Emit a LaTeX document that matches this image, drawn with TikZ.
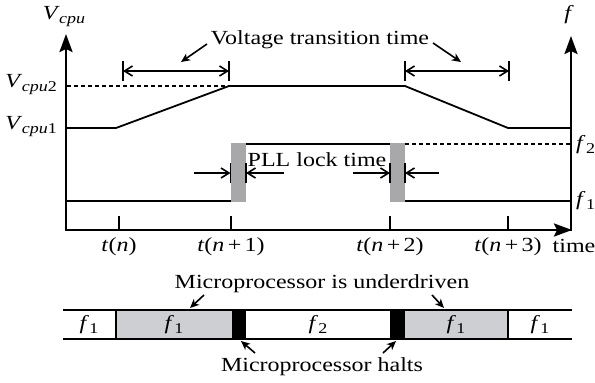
\documentclass[tikz,border=0pt]{standalone}
\usepackage{fontspec}
\setmainfont{Liberation Serif}[FakeStretch=1.2]
\usetikzlibrary{arrows.meta}
\definecolor{pllgray}{RGB}{168,168,170}
\definecolor{bargray}{RGB}{205,207,211}
\newcommand{\Vc}[1]{\textit{V}\kern-0.5pt\raisebox{-4pt}{\fontsize{15}{17}\selectfont\textit{cpu}#1}}
\newcommand{\fs}[1]{\textit{f}\kern0.5pt\raisebox{-4pt}{\fontsize{15}{17}\selectfont #1}}
\newcommand{\tn}[1]{\textit{t}(\textit{n}#1)}
\begin{document}
\begin{tikzpicture}[x=1pt,y=-1pt,
  every node/.style={font=\fontsize{20}{22}\selectfont, inner sep=0pt},
  axis/.style={line width=2.5pt,-{Stealth[length=18pt,width=13pt,inset=3pt]}},
  sig/.style={line width=1.8pt},
  dsh/.style={line width=1.5pt,dash pattern=on 4pt off 3pt},
  tick/.style={line width=1.7pt},
  bar/.style={line width=1.5pt},
  dim/.style={line width=1.6pt,{Straight Barb[length=8pt,width=10pt]}-{Straight Barb[length=8pt,width=10pt]}},
  half/.style={line width=1.6pt,-{Straight Barb[length=8pt,width=10pt]}},
  ann/.style={line width=1.6pt,-{Stealth[length=9pt,width=8pt,inset=2.5pt]}},
  pll/.style={fill=pllgray,draw=none}]
\useasboundingbox (0,0) rectangle (595,383);
% axes
\coordinate (O) at (66,230);
\coordinate (Ytop) at (66,34);
\coordinate (Rb) at (571,231);
\coordinate (Rtop) at (571,36);
\coordinate (Xend) at (572,230);
\draw[axis] (O) -- (Ytop);
\draw[axis] (Rb) -- (Rtop);
\draw[axis] (65,230) -- (Xend);
% axis labels
\node (lv) at (64,17) {\Vc{}};
\node (lf) at (569,15) {\textit{f}};
\node[anchor=east] (lv2) at (57,85) {\Vc{2}};
\node[anchor=east] (lv1) at (57,127) {\Vc{1}};
\node[anchor=west] (lf2) at (576,145) {\fs{2}};
\node[anchor=west] (lf1) at (576,201) {\fs{1}};
% ticks and time labels
\foreach \x/\nm/\lab in {119/ta/{\tn{}},231/tb/{\tn{\,+\,1}},390/tc/{\tn{\,+\,2}},508/td/{\tn{\,+\,3}}}{
  \coordinate (\nm) at (\x,230);
  \draw[tick] (\x,216) -- (\nm);
  \node (\nm l) at (\x,247) {\lab};
}
\node (ltime) at (574,246) {time};
% voltage curve
\coordinate (v0) at (66,128);
\coordinate (v1) at (116,128);
\coordinate (v2) at (229,86);
\coordinate (v3) at (405,86);
\coordinate (v4) at (508,128);
\coordinate (v5) at (570,128);
\draw[sig] (v0) -- (v1) -- (v2) -- (v3) -- (v4) -- (v5);
\draw[dsh] (67,86) -- (v2);
% PLL gray bars
\fill[pll] (230.5,143) rectangle (246,202);
\fill[pll] (390,143) rectangle (405,202);
% frequency curve
\coordinate (f0) at (67,201);
\coordinate (f1) at (231,201);
\coordinate (f2a) at (246,144);
\coordinate (f2b) at (390,144);
\coordinate (f3) at (405,201);
\coordinate (f4) at (570,201);
\draw[sig] (f0) -- (f1);
\draw[sig] (f2a) -- (f2b);
\draw[sig] (f3) -- (f4);
\draw[dsh] (405,144) -- (570,144);
% voltage transition dims
\coordinate (d1a) at (123,71); \coordinate (d1b) at (229,71);
\coordinate (d2a) at (405,71); \coordinate (d2b) at (509,71);
\draw[dim] (d1a) -- (d1b);
\draw[dim] (d2a) -- (d2b);
\foreach \p in {d1a,d1b,d2a,d2b}{\draw[tick] ([yshift=-10pt]\p) -- ([yshift=10pt]\p);}
\node (vtt) at (320,40) {Voltage transition time};
\coordinate (av1) at (181,62);
\coordinate (av2) at (461,62);
\draw[ann] (207,44) -- (av1);
\draw[ann] (433,43) -- (av2);
% PLL lock time dims
\coordinate (p1a) at (230.5,173); \coordinate (p1b) at (246,173);
\coordinate (p2a) at (390,173); \coordinate (p2b) at (405,173);
\draw[half] (194,173) -- (p1a);
\draw[half] (284,173) -- (p1b);
\draw[half] (353,173) -- (p2a);
\draw[half] (439,173) -- (p2b);
\foreach \p in {p1a,p1b,p2a,p2b}{\draw[tick] ([yshift=-10pt]\p) -- ([yshift=10pt]\p);}
\node (pllt) at (317,160) {PLL lock time};
% bottom bar
\fill[bargray] (116,310) rectangle (232,339);
\fill[bargray] (405,310) rectangle (508,339);
\fill[black] (232,310) rectangle (246,339);
\fill[black] (390,310) rectangle (405,339);
\draw[bar] (63,310) -- (572,310);
\draw[bar] (63,339) -- (572,339);
\draw[bar] (116,310) -- (116,339);
\draw[bar] (508,310) -- (508,339);
\node (b1) at (89,325) {\fs{1}};
\node (b2) at (174,325) {\fs{1}};
\node (b3) at (318,325) {\fs{2}};
\node (b4) at (456,325) {\fs{1}};
\node (b5) at (540,325) {\fs{1}};
\node (mu) at (322,284) {Microprocessor is underdriven};
\node (mh) at (322,367) {Microprocessor halts};
\coordinate (au1) at (190,308);
\coordinate (au2) at (444,308);
\draw[ann] (204,295) -- (au1);
\draw[ann] (432,295) -- (au2);
\coordinate (ah1) at (241,341);
\coordinate (ah2) at (396,341);
\draw[ann] (255,353) -- (ah1);
\draw[ann] (383,353) -- (ah2);
\end{tikzpicture}
\end{document}
